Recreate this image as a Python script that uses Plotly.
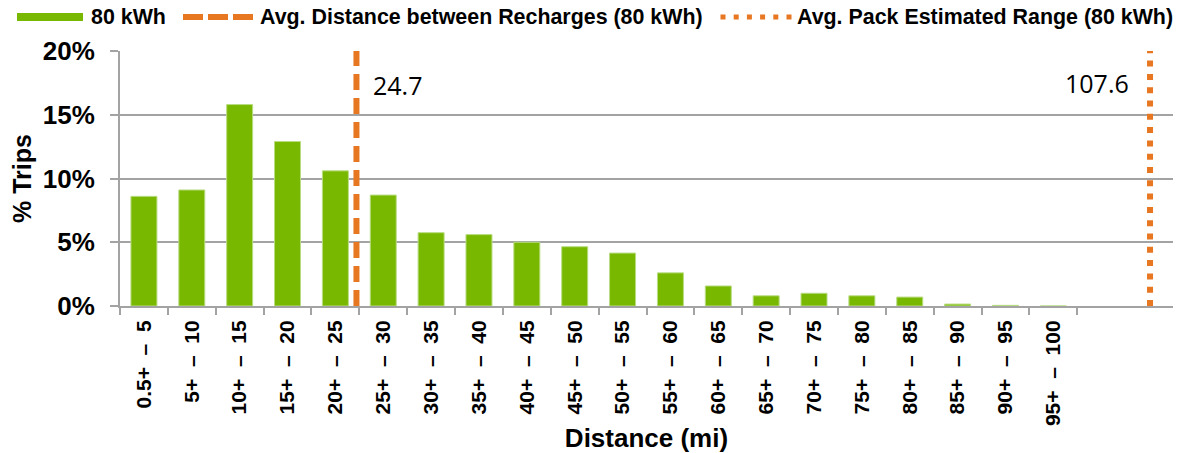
import plotly.graph_objects as go

# ---------------- data ----------------
categories = ["0.5+ – 5", "5+ – 10", "10+ – 15", "15+ – 20", "20+ – 25",
              "25+ – 30", "30+ – 35", "35+ – 40", "40+ – 45", "45+ – 50",
              "50+ – 55", "55+ – 60", "60+ – 65", "65+ – 70", "70+ – 75",
              "75+ – 80", "80+ – 85", "85+ – 90", "90+ – 95", "95+ – 100"]
pct_trips = [8.6, 9.1, 15.8, 12.9, 10.6,
             8.7, 5.75, 5.6, 5.0, 4.65,
             4.15, 2.6, 1.57, 0.8, 1.0,
             0.8, 0.7, 0.15, 0.05, 0.0]
extra_categories = ["\u00a0", "\u00a0\u00a0"]   # two empty slots at the right end
avg_recharge_distance = 24.7
avg_pack_range = 107.6
distance_axis_range = [0, 110]
y_ticks = [0, 5, 10, 15, 20]
y_tick_labels = ["0%", "5%", "10%", "15%", "20%"]

series_name = "80 kWh"
recharge_name = "Avg. Distance between Recharges (80 kWh)"
range_name = "Avg. Pack Estimated Range (80 kWh)"

# ---------------- style ----------------
GREEN = "#78B800"
ORANGE = "#E87722"
GRID = "#A3A3A3"
FONT = "Liberation Sans, Arial, sans-serif"
W, H = 1178, 453
L, R, T, B = 120, 1173, 51, 306


def px(x):
    return (x - L) / (R - L)


def py(y):
    return (B - y) / (B - T)


NB = "\u00a0\u00a0"
tick_text = [c.replace(" – ", NB + "–" + NB) for c in categories]

fig = go.Figure()

fig.add_trace(go.Bar(
    x=categories, y=pct_trips, name=series_name,
    marker=dict(color=GREEN, line=dict(color="#B9DC82", width=1)),
    showlegend=False,
))

fig.add_trace(go.Scatter(
    x=[avg_recharge_distance, avg_recharge_distance], y=[0, max(y_ticks)],
    xaxis="x2", yaxis="y", mode="lines", name=recharge_name,
    line=dict(color=ORANGE, width=6, dash="16px,8px"), showlegend=False,
))
fig.add_trace(go.Scatter(
    x=[avg_pack_range, avg_pack_range], y=[0, max(y_ticks)],
    xaxis="x2", yaxis="y", mode="lines", name=range_name,
    line=dict(color=ORANGE, width=6, dash="6px,7.3px"), showlegend=False,
))

fig.update_layout(
    width=W, height=H,
    margin=dict(l=L, r=W - R, t=T, b=H - B),
    plot_bgcolor="white", paper_bgcolor="white",
    bargap=0.457,
    font=dict(family=FONT, color="black"),
    xaxis=dict(
        type="category", automargin=False,
        categoryorder="array", categoryarray=categories + extra_categories,
        tickvals=categories, ticktext=tick_text,
        range=[-0.5, len(categories) + len(extra_categories) - 0.5],
        tickson="boundaries", ticks="outside", ticklen=7, tickwidth=2, tickcolor=GRID,
        tickangle=-90, tickfont=dict(size=21, family=FONT, color="black", weight="bold"),
        ticklabelstandoff=4,
        showline=True, linecolor=GRID, linewidth=2, showgrid=False,
        title=dict(text="<b>Distance (mi)</b>", font=dict(size=26, family=FONT, color="black"),
                   standoff=4),
    ),
    xaxis2=dict(overlaying="x", range=distance_axis_range, visible=False),
    yaxis=dict(
        automargin=False,
        range=[min(y_ticks), max(y_ticks)], tickvals=y_ticks, ticktext=y_tick_labels,
        tickfont=dict(size=26, family=FONT, color="black", weight="bold"),
        ticks="outside", ticklen=8, tickwidth=2, tickcolor=GRID,
        showgrid=True, gridcolor=GRID, gridwidth=2,
        zeroline=False, showline=True, linecolor=GRID, linewidth=2,
        ticklabelstandoff=10,
        title=dict(text="<b>% Trips</b>", font=dict(size=25, family=FONT, color="black"),
                   standoff=4),
    ),
    yaxis2=dict(
        overlaying="y", side="right", range=[0, 5], dtick=1, automargin=False,
        showticklabels=False, ticks="outside", ticklen=5, tickwidth=2, tickcolor=GRID,
        showline=True, linecolor=GRID, linewidth=2, showgrid=False, zeroline=False,
    ),
)

# value labels on the reference lines
label_font = dict(family="Open Sans, sans-serif", size=25, color="black")
fig.add_annotation(x=avg_recharge_distance, xref="x2", y=py(85), yref="paper",
                   text=f"{avg_recharge_distance:.1f}", showarrow=False,
                   xanchor="left", yanchor="middle", xshift=15, font=label_font)
fig.add_annotation(x=avg_pack_range, xref="x2", y=py(83), yref="paper",
                   text=f"{avg_pack_range:.1f}", showarrow=False,
                   xanchor="right", yanchor="middle", xshift=-19, font=label_font)

# legend drawn at the top
ly = py(17)
legend_font = dict(family=FONT, size=21.4, color="black")
fig.add_shape(type="line", xref="paper", yref="paper", x0=px(17), x1=px(83), y0=ly, y1=ly,
              line=dict(color=GREEN, width=8))
fig.add_shape(type="line", xref="paper", yref="paper", x0=px(183), x1=px(253), y0=ly, y1=ly,
              line=dict(color=ORANGE, width=6, dash="20px,5px"))
fig.add_shape(type="line", xref="paper", yref="paper", x0=px(720.5), x1=px(792), y0=ly, y1=ly,
              line=dict(color=ORANGE, width=5, dash="5px,8.2px"))
for x_left, txt in [(89, series_name), (258, recharge_name), (795, range_name)]:
    fig.add_annotation(x=px(x_left), xref="paper", y=ly, yref="paper",
                       text=f"<b>{txt}</b>", showarrow=False,
                       xanchor="left", yanchor="middle", font=legend_font)

fig.write_html("out.html", post_script="document.body.style.margin='0';",
               config={"displayModeBar": False})
